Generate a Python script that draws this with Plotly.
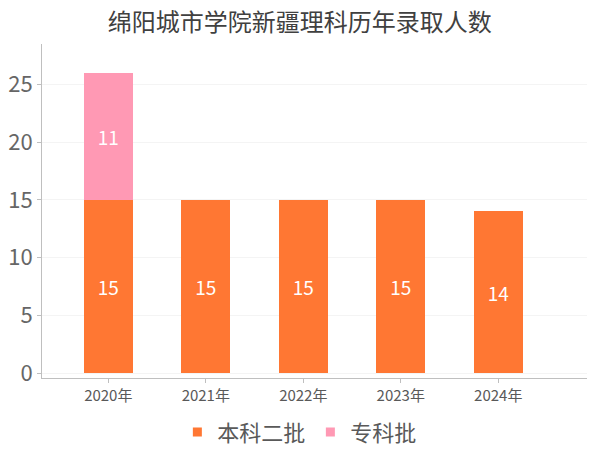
import plotly.graph_objects as go

# 数据
years = ['2020年', '2021年', '2022年', '2023年', '2024年']
benke2 = [15, 15, 15, 15, 14]
zhuanke = [11, None, None, None, None]
series_names = ['本科二批', '专科批']
series_colors = ['#FF7733', '#FF99B4']

FONT = "Noto Sans CJK SC, Microsoft YaHei, sans-serif"

# 页面 body 默认有 8px 边距，图尺寸相应缩小
fig = go.Figure()
for name, vals, color in zip(series_names, [benke2, zhuanke], series_colors):
    fig.add_trace(go.Bar(
        x=years, y=vals, name=name, showlegend=False,
        marker=dict(color=color, line=dict(width=0)),
        text=vals, textposition='inside', insidetextanchor='middle',
        textfont=dict(color='white', size=19, family=FONT),
        width=0.5,
    ))
# 图例：小方块
for name, color in zip(series_names, series_colors):
    fig.add_trace(go.Scatter(
        x=[None], y=[None], mode='markers', name=name,
        marker=dict(symbol='square', size=9, color=color),
    ))

fig.update_layout(
    barmode='stack',
    width=592, height=442,
    margin=dict(l=34, r=13, t=36, b=72),
    paper_bgcolor='white', plot_bgcolor='white',
    font=dict(family=FONT, color='#595959'),
    title=dict(text='绵阳城市学院新疆理科历年录取人数', x=0.493, xanchor='center',
               y=0.966, yref='container', yanchor='middle',
               font=dict(size=24, color='#404040', family=FONT)),
    legend=dict(orientation='h', x=0.493, xref='container', xanchor='center',
                y=0.04, yref='container', yanchor='middle',
                font=dict(size=22, color='#595959', family=FONT),
                itemwidth=30, traceorder='normal'),
    uniformtext=dict(mode=False),
)
fig.update_xaxes(
    range=[-0.68, 4.91], automargin=False,
    showline=True, linecolor='#bfbfbf', linewidth=1,
    ticks='outside', ticklen=4, tickcolor='#bfbfbf',
    tickfont=dict(size=15, color='#595959', family=FONT),
    showgrid=False, fixedrange=True,
)
fig.update_yaxes(
    range=[-0.43, 28.5], automargin=False,
    tickvals=[0, 5, 10, 15, 20, 25],
    showline=True, linecolor='#bfbfbf', linewidth=1,
    ticks='outside', ticklen=4, tickcolor='#bfbfbf',
    tickfont=dict(size=22, color='#666666', family=FONT),
    showgrid=True, gridcolor='#f4f4f4', gridwidth=1,
    zeroline=False,
)

fig.write_html("out.html")
